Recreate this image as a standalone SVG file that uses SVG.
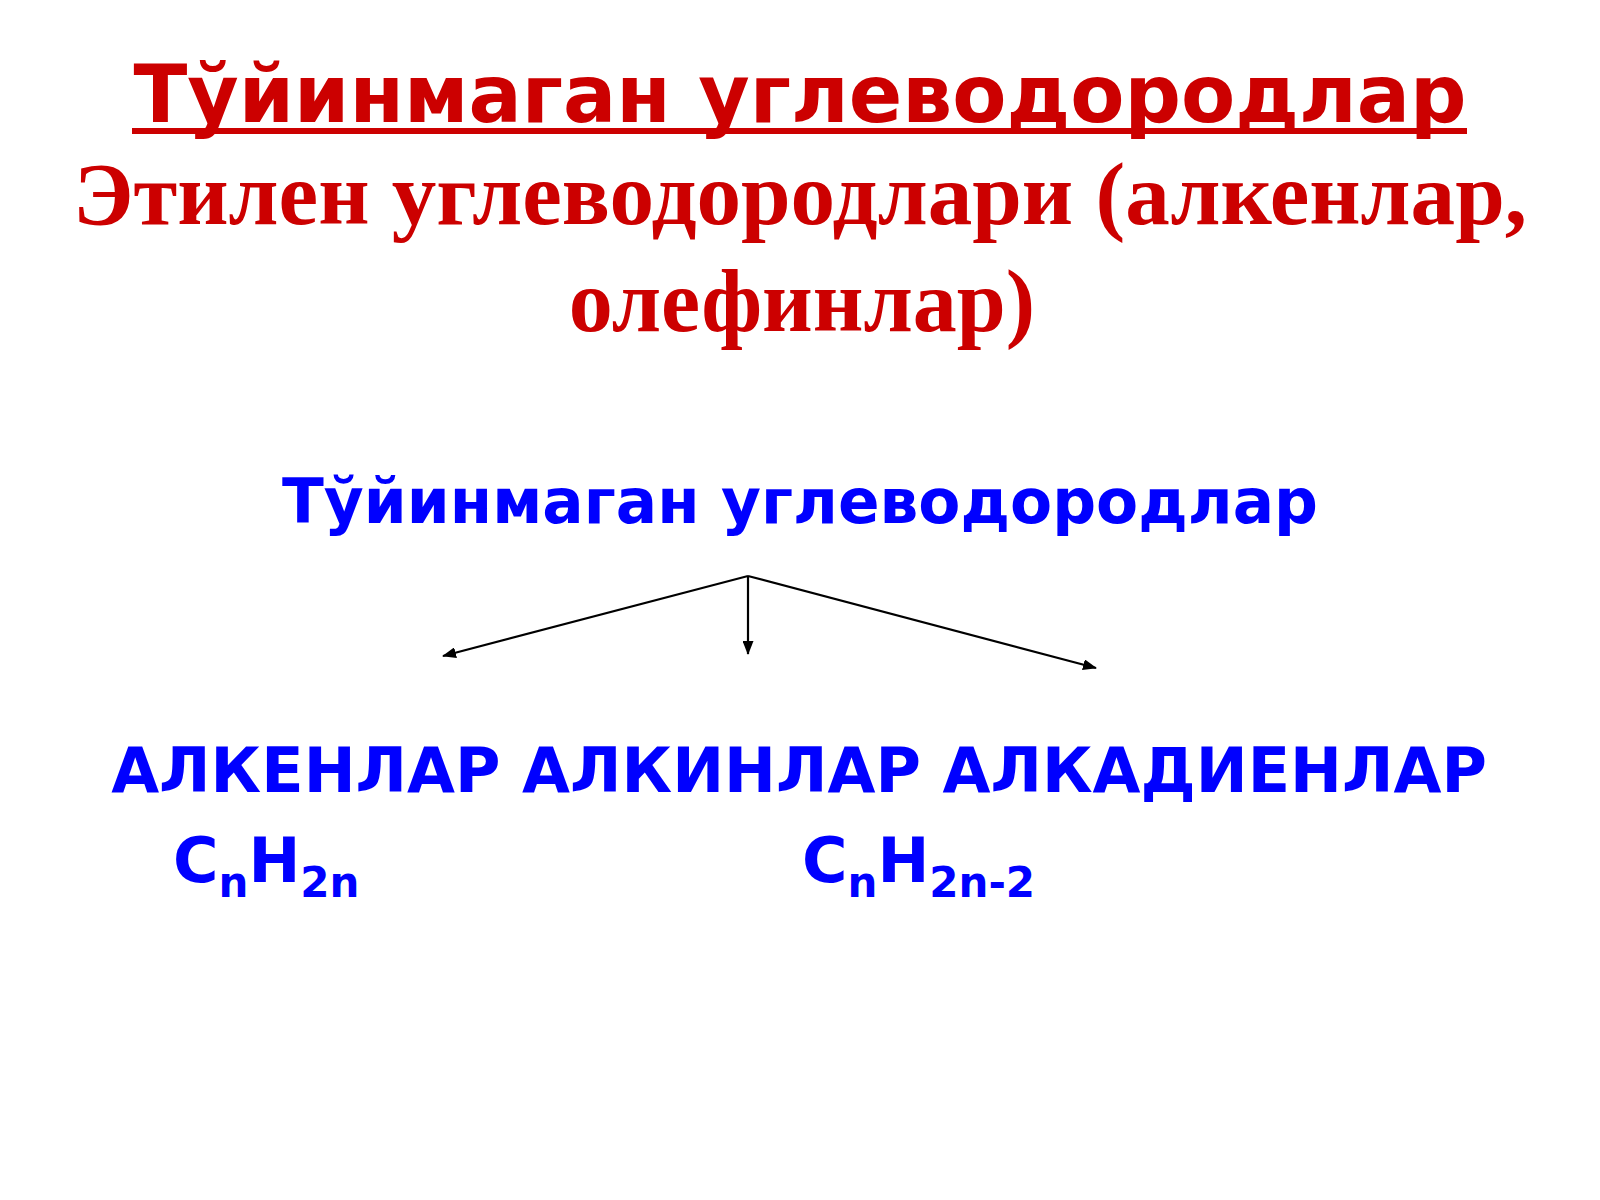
<svg xmlns="http://www.w3.org/2000/svg" width="1600" height="1200" viewBox="0 0 1600 1200">
<style>
.red { fill: #CC0000; }
.sans { font-family: "DejaVu Sans", Verdana, "Liberation Sans", sans-serif; font-weight: bold; }
.serif { font-family: "Liberation Serif", "Times New Roman", serif; font-weight: bold; }
.blue { fill: #0000FF; }
.conn { stroke: #000; stroke-width: 2.2; fill: none; marker-end: url(#ah); }
</style>
<defs>
<marker id="ah" viewBox="0 0 14 11" refX="13" refY="5.5" markerWidth="14" markerHeight="11" markerUnits="userSpaceOnUse" orient="auto">
<path d="M0,0 L14,5.5 L0,11 z" fill="#000"/>
</marker>
</defs>
<rect width="1600" height="1200" fill="#fff"/>
<g id="title">
<text class="sans red" x="800" y="122" font-size="81" text-anchor="middle" textLength="1333" lengthAdjust="spacingAndGlyphs">Тўйинмаган углеводородлар</text>
<rect class="red" x="132" y="128" width="1335" height="6"/>
</g>
<g id="subtitle">
<text class="serif red" x="800" y="224" font-size="88" text-anchor="middle" textLength="1454" lengthAdjust="spacingAndGlyphs">Этилен углеводородлари (алкенлар,</text>
<text class="serif red" x="802" y="331" font-size="88" text-anchor="middle">олефинлар)</text>
</g>
<g id="root">
<text class="sans blue" x="800" y="523" font-size="62" text-anchor="middle" textLength="1036" lengthAdjust="spacingAndGlyphs">Тўйинмаган углеводородлар</text>
</g>
<g id="connectors">
<line class="conn" x1="748" y1="576" x2="443" y2="656"/>
<line class="conn" x1="748" y1="576" x2="748" y2="654"/>
<line class="conn" x1="748" y1="576" x2="1096" y2="668"/>
</g>
<g id="classes">
<text class="sans blue" x="799" y="792" font-size="62" text-anchor="middle">АЛКЕНЛАР АЛКИНЛАР АЛКАДИЕНЛАР</text>
</g>
<g id="formula-alkenes">
<text class="sans blue" x="173" y="882" font-size="62">C<tspan font-size="42" dy="15">n</tspan><tspan dy="-15">H</tspan><tspan font-size="42" dy="15">2n</tspan></text>
</g>
<g id="formula-alkynes">
<text class="sans blue" x="802" y="882" font-size="62">C<tspan font-size="42" dy="15">n</tspan><tspan dy="-15">H</tspan><tspan font-size="42" dy="15">2n-2</tspan></text>
</g>
</svg>
